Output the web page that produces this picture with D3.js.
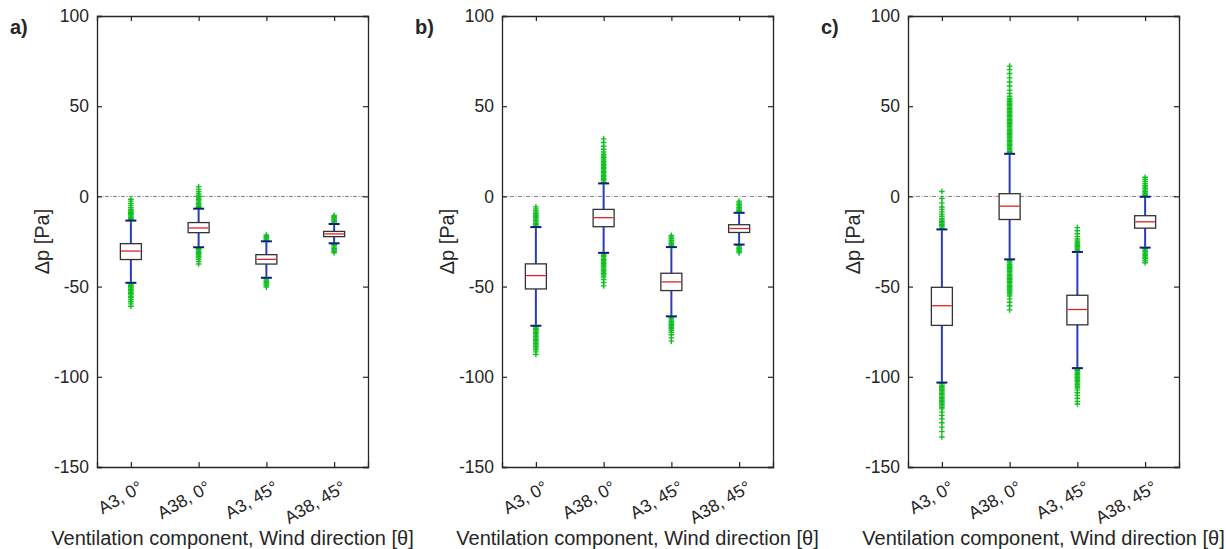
<!DOCTYPE html>
<html>
<head>
<meta charset="utf-8">
<script src="https://cdn.jsdelivr.net/npm/d3@7"></script>
<style>
  body { margin: 0; background: #fff; }
  text { font-family: "Liberation Sans", Arial, sans-serif; fill: #262626; }
</style>
</head>
<body>
<div id="vis"><svg></svg></div>
<script>
// categories and ticks
var categories = ["A3, 0°", "A38, 0°", "A3, 45°", "A38, 45°"];
var yTicks = [100, 50, 0, -50, -100, -150];
var panelLabels = ["a)", "b)", "c)"];

// panel a
var aQ3 = [-26.2, -14.5, -32.3, -19.4];
var aMedian = [-30.3, -17.5, -34.9, -20.8];
var aQ1 = [-35.0, -20.1, -37.5, -22.3];
var aWhiskHi = [-13.4, -6.8, -24.9, -15.3];
var aWhiskLo = [-47.9, -28.2, -45.1, -26.0];
var aOutliers = [
  [-12.9,-12.2,-11.6,-10.9,-10.1,-9.5,-8.8,-8.1,-7.4,-6.3,-5.1,-3.9,-2.6,-1.6,
   -48.6,-49.3,-50.1,-50.8,-51.6,-52.3,-53.1,-53.8,-54.6,-55.4,-56.2,-57.3,-58.4,-59.6,-60.9],
  [-6.3,-5.5,-4.8,-4.0,-3.2,-2.5,-1.7,-0.9,-0.1,0.7,1.4,2.6,3.9,5.3,
   -28.8,-29.5,-30.3,-31.0,-31.8,-32.5,-33.3,-34.1,-34.9,-36.1,-37.5],
  [-24.3,-23.6,-22.8,-22.1,-21.4,
   -45.7,-46.4,-47.2,-47.9,-48.6,-49.4,-50.3],
  [-14.7,-14.0,-13.2,-12.5,-11.8,-11.1,-10.6,
   -26.6,-27.3,-28.1,-28.8,-29.6,-30.4,-31.2]
];

// panel b
var bQ3 = [-37.4, -7.2, -42.6, -15.7];
var bMedian = [-43.9, -11.8, -47.4, -17.8];
var bQ1 = [-51.3, -16.8, -52.2, -20.0];
var bWhiskHi = [-17.0, 7.2, -28.1, -9.1];
var bWhiskLo = [-71.7, -31.3, -66.5, -26.7];
var bOutliers = [
  [-16.4,-15.6,-14.9,-14.1,-13.3,-12.6,-11.8,-11.0,-10.3,-9.5,-8.7,-7.9,-6.9,-5.8,
   -72.3,-73.1,-73.8,-74.6,-75.4,-76.1,-76.9,-77.7,-78.4,-79.2,-80.0,-80.8,-81.5,-82.3,-83.1,-84.0,-85.0,-86.2,-87.6],
  [7.8,8.6,9.3,10.1,10.9,11.6,12.4,13.2,13.9,14.7,15.5,16.2,17.0,17.8,18.5,19.3,20.1,20.8,21.6,22.4,23.4,24.6,26.1,27.8,29.9,31.9,
   -31.9,-32.7,-33.4,-34.2,-35.0,-35.7,-36.5,-37.3,-38.0,-38.8,-39.6,-40.3,-41.1,-41.9,-42.7,-43.6,-44.7,-46.1,-47.8,-49.6],
  [-27.5,-26.7,-26.0,-25.2,-24.4,-23.5,-22.5,-21.6,
   -67.1,-67.9,-68.6,-69.4,-70.2,-70.9,-71.7,-72.5,-73.3,-74.2,-75.3,-76.7,-78.4,-80.2],
  [-8.5,-7.7,-7.0,-6.2,-5.4,-4.6,-3.7,-2.6,
   -27.3,-28.1,-28.9,-29.7,-30.5,-31.3]
];

// panel c
var cQ3 = [-50.4, 1.5, -54.8, -10.7];
var cMedian = [-60.6, -5.4, -62.7, -14.1];
var cQ1 = [-71.5, -12.8, -71.2, -17.6];
var cWhiskHi = [-18.3, 23.6, -30.8, -0.2];
var cWhiskLo = [-103.2, -34.9, -95.2, -28.4];
var cOutliers = [
  [-17.7,-16.9,-16.2,-15.4,-14.6,-13.9,-13.1,-12.2,-11.0,-9.8,-8.6,-7.2,-5.9,-3.6,-1.2,2.7,
   -103.8,-104.6,-105.3,-106.1,-106.9,-107.6,-108.4,-109.2,-109.9,-110.7,-111.5,-112.2,-113.0,-113.8,-114.5,-115.3,-116.1,-116.9,-117.8,
   -119.6,-121.4,-123.3,-125.5,-127.9,-130.4,-133.4],
  [24.2,25.0,25.8,26.5,27.3,28.1,28.8,29.6,30.4,31.1,31.9,32.7,33.4,34.2,35.0,35.7,36.5,37.3,38.0,38.8,39.6,40.3,41.1,41.9,42.6,43.4,
   44.2,44.9,45.7,46.5,47.2,48.0,48.8,49.5,50.3,51.1,51.8,52.6,53.4,54.3,55.5,57.1,58.9,61.2,63.4,65.7,68.1,70.3,72.2,
   -35.5,-36.3,-37.0,-37.8,-38.6,-39.3,-40.1,-40.9,-41.6,-42.4,-43.2,-43.9,-44.7,-45.5,-46.2,-47.0,-47.8,-48.5,-49.3,-50.1,-50.8,
   -51.6,-52.4,-53.2,-54.1,-55.2,-56.8,-58.7,-60.6,-62.9],
  [-30.2,-29.4,-28.7,-27.9,-27.1,-26.4,-25.6,-24.7,-23.6,-22.3,-20.7,-19.0,-17.3,
   -95.8,-96.6,-97.3,-98.1,-98.9,-99.6,-100.4,-101.2,-101.9,-102.7,-103.5,-104.3,-105.2,-106.2,-107.4,-108.8,-110.3,-111.9,-113.6,-115.1],
  [0.4,1.2,1.9,2.7,3.5,4.3,5.2,6.1,7.1,8.3,9.5,10.6,
   -29.0,-29.8,-30.5,-31.3,-32.1,-32.9,-33.7,-34.6,-35.7,-36.8]
];

var panels = [
  {q3: aQ3, med: aMedian, q1: aQ1, hi: aWhiskHi, lo: aWhiskLo, out: aOutliers},
  {q3: bQ3, med: bMedian, q1: bQ1, hi: bWhiskHi, lo: bWhiskLo, out: bOutliers},
  {q3: cQ3, med: cMedian, q1: cQ1, hi: cWhiskHi, lo: cWhiskLo, out: cOutliers}
];

var W = 1226, H = 549;
var plotLefts = [97, 502, 908];
var plotW = 271, plotTop = 16, plotBottom = 467;
var axisCol = "#262626";

var svg = d3.select("#vis").select("svg")
    .attr("width", W)
    .attr("height", H);

var y = d3.scaleLinear().domain([-150, 100]).range([plotBottom, plotTop]);

panels.forEach(function(p, pi) {
  var left = plotLefts[pi];
  var x = d3.scalePoint()
    .domain(categories)
    .range([0, plotW])
    .padding(0.5);

  var g = svg.append("g")
    .attr("transform", "translate(" + left + ",0)");

  // zero line
  g.append("line")
    .attr("x1", 0).attr("x2", plotW)
    .attr("y1", y(0)).attr("y2", y(0))
    .attr("stroke", "#808080")
    .attr("stroke-width", 1)
    .attr("stroke-dasharray", "4,1.5,1,1.5");

  // axes (MATLAB style, ticks inside, mirrored)
  var yl = g.append("g").call(d3.axisLeft(y).tickValues(yTicks).tickSize(-5).tickPadding(8)
    .tickFormat(function(d) { return String(d); }));
  var yr = g.append("g").attr("transform", "translate(" + plotW + ",0)")
    .call(d3.axisRight(y).tickValues(yTicks).tickSize(-5).tickFormat(""));
  var xt = g.append("g").attr("transform", "translate(0," + plotTop + ")")
    .call(d3.axisTop(x).tickSize(-5).tickFormat(""));
  var xb = g.append("g").attr("transform", "translate(0," + plotBottom + ")")
    .call(d3.axisBottom(x).tickSize(-5).tickFormat(""));

  [yl, yr, xt, xb].forEach(function(a) {
    a.select(".domain").attr("stroke", axisCol).attr("stroke-width", 1.3);
    a.selectAll(".tick line").attr("stroke", axisCol).attr("stroke-width", 1.2);
  });
  yl.selectAll(".tick text")
    .style("font-size", "17.5px")
    .style("font-family", "Liberation Sans, Arial, sans-serif")
    .attr("fill", axisCol);

  // rotated category labels
  g.selectAll("catLabels")
    .data(categories)
    .enter()
    .append("text")
      .attr("transform", function(d) { return "translate(" + (x(d) + 7) + "," + (plotBottom + 13) + ") rotate(-30)"; })
      .attr("text-anchor", "end")
      .attr("dy", "0.7em")
      .style("font-size", "17.5px")
      .text(function(d) { return d; });

  // axis titles
  g.append("text")
    .attr("x", plotW / 2)
    .attr("y", 545)
    .attr("text-anchor", "middle")
    .style("font-size", "20px")
    .text("Ventilation component, Wind direction [θ]");

  g.append("text")
    .attr("transform", "translate(-48," + ((plotTop + plotBottom) / 2) + ") rotate(-90)")
    .attr("text-anchor", "middle")
    .style("font-size", "20px")
    .text("Δp [Pa]");

  svg.append("text")
    .attr("x", left - 87)
    .attr("y", 34)
    .style("font-size", "20px")
    .style("font-weight", "bold")
    .attr("fill", "#000")
    .text(panelLabels[pi]);

  var boxW = 21, capW = 11;
  var idx = d3.range(categories.length);

  // whiskers
  g.selectAll("whisk")
    .data(idx)
    .enter()
    .append("line")
      .attr("x1", function(i) { return x(categories[i]); })
      .attr("x2", function(i) { return x(categories[i]); })
      .attr("y1", function(i) { return y(p.hi[i]); })
      .attr("y2", function(i) { return y(p.lo[i]); })
      .attr("stroke", "#2a3cb8")
      .attr("stroke-width", 2);

  // outliers as '+'
  idx.forEach(function(i) {
    var cx = x(categories[i]);
    var og = g.append("g")
      .attr("stroke", "#10c020")
      .attr("stroke-width", 1.4);
    og.selectAll("path")
      .data(p.out[i])
      .enter()
      .append("path")
        .attr("d", function(v) {
          var yy = y(v);
          return "M" + (cx - 2.8) + "," + yy + "H" + (cx + 2.8) + "M" + cx + "," + (yy - 2.8) + "V" + (yy + 2.8);
        });
  });

  // caps
  ["hi", "lo"].forEach(function(k) {
    g.selectAll("caps")
      .data(idx)
      .enter()
      .append("line")
        .attr("x1", function(i) { return x(categories[i]) - capW / 2; })
        .attr("x2", function(i) { return x(categories[i]) + capW / 2; })
        .attr("y1", function(i) { return y(p[k][i]); })
        .attr("y2", function(i) { return y(p[k][i]); })
        .attr("stroke", "#0d1a80")
        .attr("stroke-width", 2);
  });

  // boxes
  g.selectAll("boxes")
    .data(idx)
    .enter()
    .append("rect")
      .attr("x", function(i) { return x(categories[i]) - boxW / 2; })
      .attr("width", boxW)
      .attr("y", function(i) { return y(p.q3[i]); })
      .attr("height", function(i) { return y(p.q1[i]) - y(p.q3[i]); })
      .attr("fill", "#fff")
      .attr("stroke", "#333")
      .attr("stroke-width", 1.3);

  // medians
  g.selectAll("meds")
    .data(idx)
    .enter()
    .append("line")
      .attr("x1", function(i) { return x(categories[i]) - boxW / 2 + 0.7; })
      .attr("x2", function(i) { return x(categories[i]) + boxW / 2 - 0.7; })
      .attr("y1", function(i) { return y(p.med[i]); })
      .attr("y2", function(i) { return y(p.med[i]); })
      .attr("stroke", "#e02424")
      .attr("stroke-width", 1.3);
});
</script>
</body>
</html>
